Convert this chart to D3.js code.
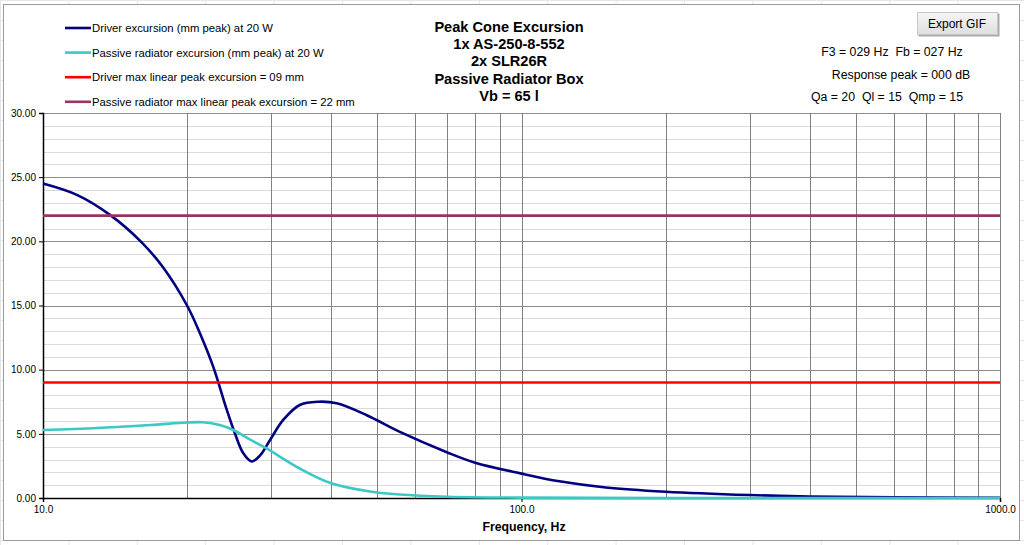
<!DOCTYPE html>
<html>
<head>
<meta charset="utf-8">
<script src="https://cdn.jsdelivr.net/npm/d3@7"></script>
<style>
  body { margin: 0; background: #fff; }
  text { font-family: Arial, "Liberation Sans", sans-serif; fill: #000; white-space: pre; }
</style>
</head>
<body>
<div id="chart"></div>
<script>
// series: frequency in Hz, excursion in mm peak
const DRIVER_FREQ = [10, 11.8, 13.8, 16, 17.8, 20, 21.3, 22.7, 24.2, 25.2, 26.2, 27.3, 28.4, 29.8, 31.8, 34.4, 37.6, 41.1, 47.5, 55.7, 70, 80, 100, 120, 150, 200, 300, 400, 600, 1000]
const DRIVER_MM = [24.5, 23.6, 22.06, 20.0, 18.0, 15.0, 12.8, 10.2, 6.9, 5.0, 3.5, 2.85, 3.3, 4.5, 6.1, 7.25, 7.5, 7.38, 6.45, 5.15, 3.55, 2.75, 1.9, 1.3, 0.82, 0.49, 0.23, 0.12, 0.05, 0.02]

const PR_FREQ = [10, 13, 16.8, 20, 21.6, 23.4, 25, 27.1, 29.2, 34.4, 40, 47.5, 55.7, 70, 100, 200, 1000]
const PR_MM = [5.3, 5.45, 5.69, 5.88, 5.9, 5.69, 5.3, 4.55, 3.9, 2.3, 1.15, 0.55, 0.27, 0.1, 0.03, 0.005, 0]

const DRIVER_XMAX = 9
const PR_XMAX = 22

const LEGEND = [
  "Driver excursion (mm peak) at 20 W",
  "Passive radiator excursion (mm peak) at 20 W",
  "Driver max linear peak excursion = 09 mm",
  "Passive radiator max linear peak excursion = 22 mm"
]
const COLORS = ["#000080", "#3cc8c4", "#ff0000", "#993366"]

const TITLE = ["Peak Cone Excursion", "1x AS-250-8-552", "2x SLR26R", "Passive Radiator Box", "Vb = 65 l"]
const INFO = ["F3 = 029 Hz  Fb = 027 Hz", "Response peak = 000 dB", "Qa = 20  Ql = 15  Qmp = 15"]

const Y_TICKS = [0, 5, 10, 15, 20, 25, 30]
const X_TICKS = [10, 100, 1000]
const X_GRID = [20, 30, 40, 50, 60, 70, 80, 90, 100, 200, 300, 400, 500, 600, 700, 800, 900, 1000]

const W = 1024, H = 545
const PLOT = { LEFT: 43, RIGHT: 1000, TOP: 113, BOTTOM: 498 }

const svg = d3.select("#chart")
  .append("svg")
    .attr("width", W)
    .attr("height", H)

// faint spreadsheet cells behind the chart object
const cells = svg.append("g").attr("stroke", "#e6e6e6").attr("stroke-width", 1)
d3.range(0, W, 68.4).forEach(x => {
  cells.append("line").attr("x1", x + 0.5).attr("x2", x + 0.5).attr("y1", 0).attr("y2", H)
})
d3.range(0, H, 20).forEach(y => {
  cells.append("line").attr("x1", 0).attr("x2", W).attr("y1", y + 0.5).attr("y2", y + 0.5)
})

svg.append("rect")
  .attr("x", 3.5).attr("y", 4.5)
  .attr("width", 1016).attr("height", 536)
  .attr("fill", "#fff")
  .attr("stroke", "#9a9a9a")

const x = d3.scaleLog()
  .domain([10, 1000])
  .range([PLOT.LEFT, PLOT.RIGHT])

const y = d3.scaleLinear()
  .domain([0, 30])
  .range([PLOT.BOTTOM, PLOT.TOP])

// grid
const grid = svg.append("g")
grid.selectAll(".minor")
  .data(d3.range(1, 30).filter(d => d % 5 !== 0))
  .enter()
  .append("line")
    .attr("x1", PLOT.LEFT).attr("x2", PLOT.RIGHT)
    .attr("y1", d => Math.round(y(d)) + 0.5)
    .attr("y2", d => Math.round(y(d)) + 0.5)
    .attr("stroke", "#dadada")

grid.selectAll(".major")
  .data(Y_TICKS.slice(1))
  .enter()
  .append("line")
    .attr("x1", PLOT.LEFT).attr("x2", PLOT.RIGHT)
    .attr("y1", d => Math.round(y(d)) + 0.5)
    .attr("y2", d => Math.round(y(d)) + 0.5)
    .attr("stroke", "#8c8c8c")

grid.selectAll(".vgrid")
  .data(X_GRID)
  .enter()
  .append("line")
    .attr("x1", d => Math.round(x(d)) + 0.5)
    .attr("x2", d => Math.round(x(d)) + 0.5)
    .attr("y1", PLOT.TOP).attr("y2", PLOT.BOTTOM)
    .attr("stroke", "#808080")

// axes
const yAxis = svg.append("g")
  .attr("transform", `translate(${PLOT.LEFT}, 0)`)
  .call(d3.axisLeft(y).tickValues(Y_TICKS).tickFormat(d3.format(".2f")).tickSize(4).tickPadding(3))
yAxis.select(".domain").attr("stroke", "#000").attr("stroke-width", 1.5)
yAxis.selectAll("text").style("font-size", "10px").attr("font-family", "Arial, Liberation Sans, sans-serif")

const xAxis = svg.append("g")
  .attr("transform", `translate(0, ${PLOT.BOTTOM})`)
  .call(d3.axisBottom(x).tickValues(X_TICKS).tickFormat(d3.format(".1f")).tickSize(4).tickPadding(4))
xAxis.select(".domain").attr("stroke", "#000").attr("stroke-width", 1.5)
xAxis.selectAll("text").style("font-size", "10px").attr("font-family", "Arial, Liberation Sans, sans-serif")

svg.append("text")
  .attr("x", 524).attr("y", 531)
  .attr("text-anchor", "middle")
  .style("font-size", "12.3px").style("font-weight", "bold")
  .text("Frequency, Hz")

// curves
const line = d3.line()
  .x(d => x(d[0]))
  .y(d => y(d[1]))
  .curve(d3.curveCatmullRom.alpha(0.5))

svg.append("path")
  .datum(d3.zip(DRIVER_FREQ, DRIVER_MM))
  .attr("d", line)
  .attr("fill", "none")
  .attr("stroke", COLORS[0])
  .attr("stroke-width", 2.6)

svg.append("path")
  .datum(d3.zip(PR_FREQ, PR_MM))
  .attr("d", line)
  .attr("fill", "none")
  .attr("stroke", COLORS[1])
  .attr("stroke-width", 2.6)

svg.selectAll(".limit")
  .data([DRIVER_XMAX, PR_XMAX])
  .enter()
  .append("line")
    .attr("x1", PLOT.LEFT).attr("x2", PLOT.RIGHT)
    .attr("y1", d => y(d)).attr("y2", d => y(d))
    .attr("stroke", (d, i) => COLORS[i + 2])
    .attr("stroke-width", 2.6)

// legend
const legend = svg.append("g")
  .attr("transform", "translate(65, 28)")

legend.selectAll(".leg")
  .data(LEGEND)
  .enter()
  .append("line")
    .attr("x1", 0).attr("x2", 26)
    .attr("y1", (d, i) => i * 24.6).attr("y2", (d, i) => i * 24.6)
    .attr("stroke", (d, i) => COLORS[i])
    .attr("stroke-width", 2.6)

legend.selectAll(".t-leg")
  .data(LEGEND)
  .enter()
  .append("text")
    .attr("x", 27)
    .attr("y", (d, i) => i * 24.6 + 4)
    .style("font-size", "11.3px")
    .text(d => d)

// title
svg.append("g")
  .selectAll("text")
  .data(TITLE)
  .enter()
  .append("text")
    .attr("x", 509)
    .attr("y", (d, i) => 32 + i * 17.2)
    .attr("text-anchor", "middle")
    .style("font-size", "14.6px").style("font-weight", "bold")
    .text(d => d)

// box parameters
const INFO_X = [892, 901, 887]
svg.append("g")
  .selectAll("text")
  .data(INFO)
  .enter()
  .append("text")
    .attr("x", (d, i) => INFO_X[i])
    .attr("y", (d, i) => 56 + i * 22.5)
    .attr("text-anchor", "middle")
    .style("font-size", "12.3px")
    .text(d => d)

// export button
const defs = svg.append("defs")
const grad = defs.append("linearGradient")
  .attr("id", "btn").attr("x1", 0).attr("x2", 0).attr("y1", 0).attr("y2", 1)
grad.append("stop").attr("offset", "0%").attr("stop-color", "#f6f6f6")
grad.append("stop").attr("offset", "100%").attr("stop-color", "#dedede")

const btn = svg.append("g").attr("transform", "translate(917, 12)")
btn.append("rect")
  .attr("x", 1.5).attr("y", 1.5).attr("width", 81).attr("height", 23)
  .attr("fill", "#a8a8a8")
btn.append("rect")
  .attr("x", 0.5).attr("y", 0.5).attr("width", 80).attr("height", 22)
  .attr("fill", "url(#btn)")
  .attr("stroke", "#c8c8c8")
btn.append("text")
  .attr("x", 40).attr("y", 15.5)
  .attr("text-anchor", "middle")
  .style("font-size", "12px")
  .text("Export GIF")
</script>
</body>
</html>
